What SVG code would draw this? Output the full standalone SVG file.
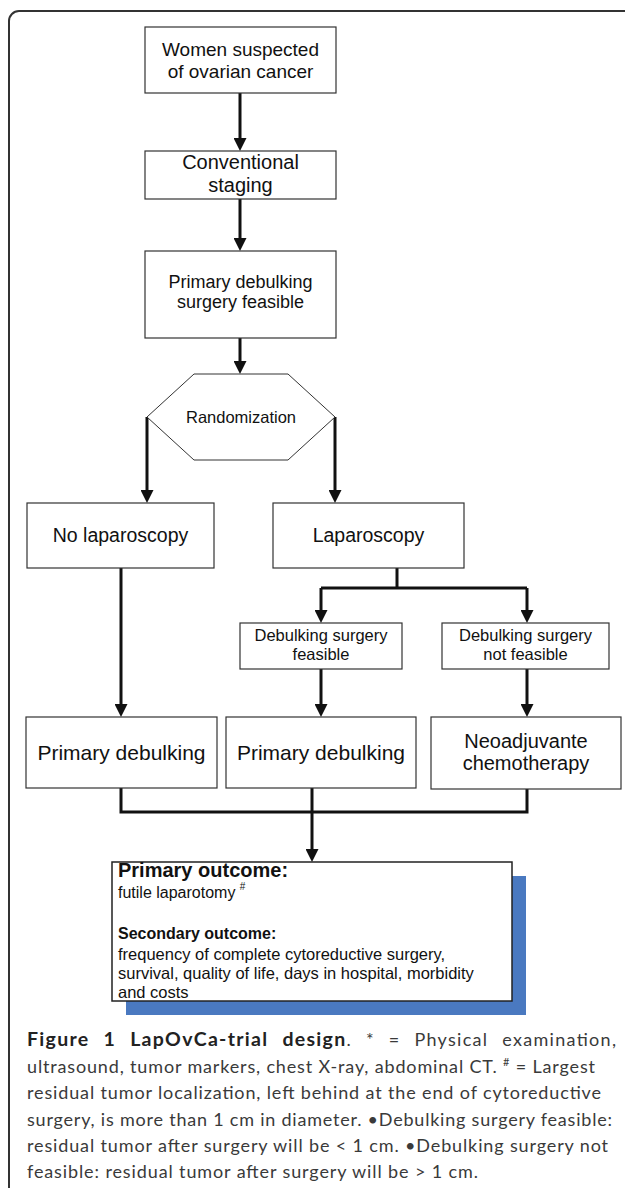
<svg xmlns="http://www.w3.org/2000/svg" width="625" height="1188" viewBox="0 0 625 1188">
<defs>
<style>
.bx{fill:#fff;stroke:#333;stroke-width:1.2}
.t{font-family:"Liberation Sans",Arial,sans-serif;fill:#111;text-anchor:middle}
.ot{font-family:"Liberation Sans",Arial,sans-serif;fill:#111}
.c{fill:none;stroke:#111;stroke-width:3}
.cap{font-family:Lato,"Open Sans",sans-serif;font-size:18px;fill:#3a3a3a}
.b{font-weight:bold;fill:#222;font-size:19.5px}
</style>
<marker id="ah" viewBox="0 0 13 13" refX="7" refY="6.5" markerWidth="13" markerHeight="13" markerUnits="userSpaceOnUse" orient="auto">
<path d="M0,0 L13,6.5 L0,13 z" fill="#111"/>
</marker>
</defs>
<rect width="625" height="1188" fill="#fff"/>
<path d="M625 11 H19 A10 10 0 0 0 9 21 V1188" fill="none" stroke="#333" stroke-width="2"/>

<g id="connectors">
<line class="c" x1="240" y1="93" x2="240" y2="145" marker-end="url(#ah)"/>
<line class="c" x1="240" y1="199" x2="240" y2="245" marker-end="url(#ah)"/>
<line class="c" x1="240" y1="338" x2="240" y2="368" marker-end="url(#ah)"/>
<line class="c" x1="147" y1="417" x2="147" y2="497" marker-end="url(#ah)"/>
<line class="c" x1="335" y1="417" x2="335" y2="497" marker-end="url(#ah)"/>
<path class="c" d="M397 568 V588"/>
<path class="c" d="M321 588 H527"/>
<line class="c" x1="321" y1="588" x2="321" y2="617" marker-end="url(#ah)"/>
<line class="c" x1="527" y1="588" x2="527" y2="617" marker-end="url(#ah)"/>
<line class="c" x1="121" y1="568" x2="121" y2="711" marker-end="url(#ah)"/>
<line class="c" x1="321" y1="669" x2="321" y2="711" marker-end="url(#ah)"/>
<line class="c" x1="527" y1="669" x2="527" y2="711" marker-end="url(#ah)"/>
<path class="c" d="M121 788 V812 H527 V789"/>
<line class="c" x1="312" y1="788" x2="312" y2="856" marker-end="url(#ah)"/>
</g>

<g id="n-women">
<rect class="bx" x="145" y="27" width="191" height="66"/>
<text class="t" font-size="19" x="240.5" y="56">Women suspected</text>
<text class="t" font-size="19" x="240.5" y="78">of ovarian cancer</text>
</g>
<g id="n-staging">
<rect class="bx" x="145" y="151" width="191" height="48"/>
<text class="t" font-size="20" x="240.5" y="169">Conventional</text>
<text class="t" font-size="20" x="240.5" y="192">staging</text>
</g>
<g id="n-feasible">
<rect class="bx" x="145" y="251" width="191" height="87"/>
<text class="t" font-size="18" x="240.5" y="288">Primary debulking</text>
<text class="t" font-size="18" x="240.5" y="308">surgery feasible</text>
</g>
<g id="n-random">
<polygon points="194,374 288,374 335,417 288,460 194,460 147,417" fill="#fff" stroke="#333" stroke-width="1"/>
<text class="t" font-size="16.5" x="241" y="423">Randomization</text>
</g>
<g id="n-nolap">
<rect class="bx" x="27" y="503" width="187" height="65"/>
<text class="t" font-size="19.5" x="120.5" y="542">No laparoscopy</text>
</g>
<g id="n-lap">
<rect class="bx" x="273" y="503" width="191" height="65"/>
<text class="t" font-size="19.5" x="368.5" y="542">Laparoscopy</text>
</g>
<g id="n-dsf">
<rect class="bx" x="240" y="623" width="162" height="46"/>
<text class="t" font-size="16.5" x="321" y="641">Debulking surgery</text>
<text class="t" font-size="16.5" x="321" y="660">feasible</text>
</g>
<g id="n-dsnf">
<rect class="bx" x="442" y="623" width="167" height="46"/>
<text class="t" font-size="16.5" x="525.5" y="641">Debulking surgery</text>
<text class="t" font-size="16.5" x="525.5" y="660">not feasible</text>
</g>
<g id="n-pd1">
<rect class="bx" x="26" y="717" width="191" height="71"/>
<text class="t" font-size="21" x="121.5" y="760">Primary debulking</text>
</g>
<g id="n-pd2">
<rect class="bx" x="226" y="717" width="190" height="71"/>
<text class="t" font-size="21" x="321" y="760">Primary debulking</text>
</g>
<g id="n-neo">
<rect class="bx" x="431" y="717" width="190" height="72"/>
<text class="t" font-size="20" x="526" y="748">Neoadjuvante</text>
<text class="t" font-size="20" x="526" y="770">chemotherapy</text>
</g>
<g id="n-outcome">
<rect x="126" y="876" width="400" height="139" fill="#4a79c0"/>
<rect x="112" y="862" width="400" height="139" fill="#fff" stroke="#222" stroke-width="1.5"/>
<text class="ot" font-size="20" font-weight="bold" x="118" y="877">Primary outcome:</text>
<text class="ot" font-size="16" x="118" y="898">futile laparotomy <tspan font-size="10" dy="-8">#</tspan></text>
<text class="ot" font-size="16" font-weight="bold" x="118" y="939">Secondary outcome:</text>
<text class="ot" font-size="16.5" x="118" y="960">frequency of complete cytoreductive surgery,</text>
<text class="ot" font-size="16.5" x="118" y="979">survival, quality of life, days in hospital, morbidity</text>
<text class="ot" font-size="16.5" x="118" y="998">and costs</text>
</g>

<g id="caption">
<text class="cap" x="27" y="1046" font-size="18.5" word-spacing="8" textLength="589" lengthAdjust="spacing"><tspan class="b">Figure 1 LapOvCa-trial design</tspan>. * = Physical examination,</text>
<text class="cap" x="27" y="1073" textLength="568" lengthAdjust="spacing">ultrasound, tumor markers, chest X-ray, abdominal CT. <tspan font-size="11" dy="-7">#</tspan><tspan dy="7"> = Largest</tspan></text>
<text class="cap" x="27" y="1099" textLength="574" lengthAdjust="spacing">residual tumor localization, left behind at the end of cytoreductive</text>
<text class="cap" x="27" y="1126" textLength="585" lengthAdjust="spacing">surgery, is more than 1 cm in diameter. •Debulking surgery feasible:</text>
<text class="cap" x="27" y="1152" textLength="581" lengthAdjust="spacing">residual tumor after surgery will be &lt; 1 cm. •Debulking surgery not</text>
<text class="cap" x="27" y="1178" textLength="451" lengthAdjust="spacing">feasible: residual tumor after surgery will be &gt; 1 cm.</text>
</g>
</svg>
